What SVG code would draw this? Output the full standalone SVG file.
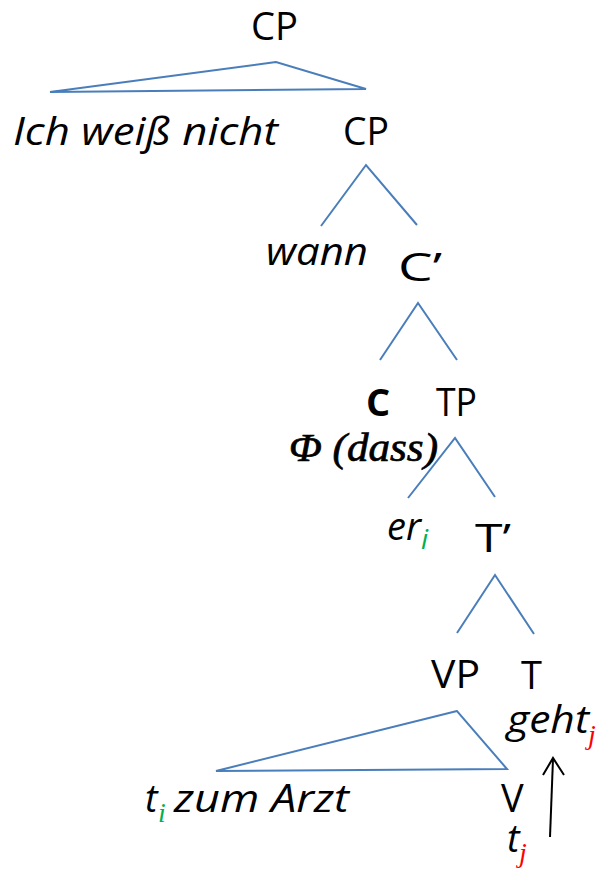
<svg xmlns="http://www.w3.org/2000/svg" width="606" height="871" viewBox="0 0 606 871">
  <style>
    .lbl { font-family: "Open Sans", "Liberation Sans", sans-serif; font-size: 38px; fill: #000; }
    .it { font-style: italic; }
    .bd { font-weight: bold; }
    .sub { font-size: 28px; font-style: italic; }
    .green { fill: #00b050; }
    .red { fill: #ff0000; }
    .phi { font-family: "Liberation Serif", "DejaVu Serif", serif; font-style: italic; font-size: 40px; fill: #000; stroke: #000; stroke-width: 0.7; }
    .edge { fill: none; stroke: #4a7ebb; stroke-width: 2; stroke-linejoin: miter; }
    .move { fill: none; stroke: #000; stroke-width: 2; }
  </style>
  <rect width="606" height="871" fill="#fff"/>

  <!-- tree branches -->
  <g id="connectors">
    <polygon class="edge" points="276,62 50,92 366,89"/>
    <polyline class="edge" points="321,226 366,165 417,225"/>
    <polyline class="edge" points="380,360 418,303 457,360"/>
    <polyline class="edge" points="408,498 455,438 495,497"/>
    <polyline class="edge" points="457,633 495,575 534,634"/>
    <polygon class="edge" points="457,711 216,771 507,769"/>
    <!-- head movement V to T -->
    <line class="move" x1="550" y1="837" x2="553" y2="759"/>
    <polyline class="move" points="543,775 553,758 564,775"/>
  </g>

  <g id="cp-top"><text class="lbl" x="251" y="40" textLength="47" lengthAdjust="spacingAndGlyphs">CP</text></g>
  <g id="ich-weiss-nicht"><text class="lbl it" x="13" y="145" textLength="265" lengthAdjust="spacingAndGlyphs">Ich weiß nicht</text></g>
  <g id="cp"><text class="lbl" x="343" y="145" textLength="46" lengthAdjust="spacingAndGlyphs">CP</text></g>
  <g id="wann"><text class="lbl it" x="266" y="265" textLength="102" lengthAdjust="spacingAndGlyphs">wann</text></g>
  <g id="c-bar"><text class="lbl" x="398" y="281" textLength="44" lengthAdjust="spacingAndGlyphs">C’</text></g>
  <g id="c-head"><text class="lbl bd" x="366" y="416">C</text></g>
  <g id="tp"><text class="lbl" x="436" y="416" textLength="41" lengthAdjust="spacingAndGlyphs">TP</text></g>
  <g id="phi-dass"><text class="phi" x="289" y="461" textLength="149" lengthAdjust="spacingAndGlyphs">Φ (dass)</text></g>
  <g id="er"><text class="lbl it" x="387" y="540">er<tspan class="sub green" dy="9">i</tspan></text></g>
  <g id="t-bar"><text class="lbl" x="475" y="552" textLength="36" lengthAdjust="spacingAndGlyphs">T’</text></g>
  <g id="vp"><text class="lbl" x="431" y="688" textLength="49" lengthAdjust="spacingAndGlyphs">VP</text></g>
  <g id="t-head"><text class="lbl" x="521" y="689">T</text></g>
  <g id="geht"><text class="lbl it" x="507" y="733" textLength="82" lengthAdjust="spacingAndGlyphs">geht</text><text class="sub red" x="588" y="744">j</text></g>
  <g id="t-zum-arzt"><text class="lbl it" x="145" y="812">t</text><text class="sub green" x="158" y="822">i</text><text class="lbl it" x="174" y="812" textLength="175" lengthAdjust="spacingAndGlyphs">zum Arzt</text></g>
  <g id="v"><text class="lbl" x="501" y="812">V</text></g>
  <g id="trace-v"><text class="lbl it" x="507" y="852">t</text><text class="sub red" x="519" y="862">j</text></g>
</svg>
